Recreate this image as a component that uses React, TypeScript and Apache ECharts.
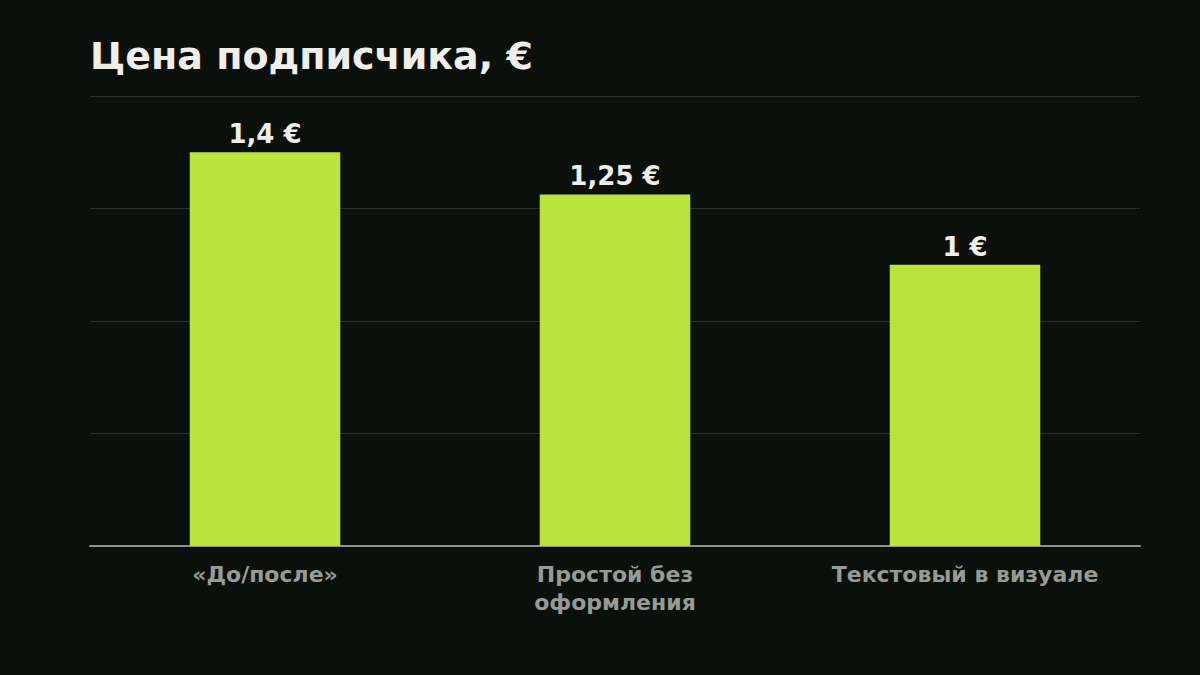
import React, { useEffect, useRef } from "react";
import * as echarts from "echarts";

const categories = ["«До/после»", "Простой без\nоформления", "Текстовый в визуале"];
const prices = [1.4, 1.25, 1];
const priceLabels = ["1,4 €", "1,25 €", "1 €"];

const FONT = "'DejaVu Sans', sans-serif";

const App: React.FC = () => {
  const chartRef = useRef<HTMLDivElement>(null);

  useEffect(() => {
    if (!chartRef.current) return;
    const myChart = echarts.init(chartRef.current, null, { renderer: "svg" });

    const option: echarts.EChartsOption = {
      animation: false,
      backgroundColor: "#0c100d",
      title: {
        text: "Цена подписчика, €",
        left: 90,
        top: 37,
        padding: 0,
        textStyle: {
          color: "#f0eee8",
          fontFamily: FONT,
          fontWeight: "bold",
          fontSize: 38,
        },
      },
      grid: {
        left: 90,
        right: 60,
        top: 96,
        bottom: 129,
        containLabel: false,
      },
      xAxis: {
        type: "category",
        data: categories,
        axisTick: { show: false },
        axisLine: { lineStyle: { color: "#8e918c", width: 2 } },
        axisLabel: {
          color: "#979a95",
          fontFamily: FONT,
          fontWeight: "bold",
          fontSize: 22,
          lineHeight: 28,
          margin: 14,
          interval: 0,
        },
      },
      yAxis: {
        type: "value",
        min: 0,
        max: 1.6,
        interval: 0.4,
        axisLine: { show: false },
        axisTick: { show: false },
        axisLabel: { show: false },
        splitLine: { lineStyle: { color: "#2c302d", width: 1 } },
      },
      series: [
        {
          type: "bar",
          barWidth: "43%",
          data: prices,
          itemStyle: { color: "#bae43b" },
          label: {
            show: true,
            position: "top",
            distance: 5,
            color: "#f0eee8",
            fontFamily: FONT,
            fontWeight: "bold",
            fontSize: 26,
            formatter: (p: any) => priceLabels[p.dataIndex],
          },
        },
      ],
    };

    myChart.setOption(option);

    return () => {
      myChart.dispose();
    };
  }, []);

  return (
    <div
      ref={chartRef}
      style={{
        position: "fixed",
        left: 0,
        top: 0,
        width: "1200px",
        height: "675px",
      }}
    />
  );
};

export default App;
